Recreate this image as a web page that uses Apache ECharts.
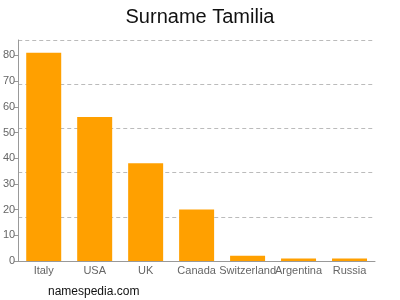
<!DOCTYPE html>
<html><head><meta charset="utf-8">
<script src="https://cdn.jsdelivr.net/npm/echarts@6/dist/echarts.min.js"></script>
<style>html,body{margin:0;padding:0;background:#fff}#c{width:400px;height:300px}</style>
</head><body><div id="c"></div>
<script>
var categories = ["Italy","USA","UK","Canada","Switzerland","Argentina","Russia"];
var values = [81, 56, 38, 20, 2, 1, 1];
var yMax = 86;
var chart = echarts.init(document.getElementById('c'), null, {renderer:'canvas'});
chart.setOption({
  animation:false,
  backgroundColor:'#fff',
  title:{text:'Surname Tamilia', left:'center', top:2, textStyle:{fontFamily:'Liberation Sans', fontSize:20, fontWeight:'normal', color:'#111'}},
  graphic:[{type:'text', left:48, top:286, style:{text:'namespedia.com', font:'12px "Liberation Sans"', fill:'#111'}}],
  grid:{left:18, right:25, top:40, bottom:39},
  xAxis:{type:'category', data:categories,
    axisLine:{lineStyle:{color:'#999'}},
    axisTick:{alignWithLabel:true, length:4, lineStyle:{color:'#999'}},
    axisLabel:{color:'#666', fontFamily:'Liberation Sans', fontSize:11, margin:4, interval:0}},
  yAxis:[{type:'value', min:0, max:yMax, interval:10,
    axisLine:{show:true, lineStyle:{color:'#999'}},
    axisTick:{show:true, length:4, lineStyle:{color:'#999'}},
    axisLabel:{color:'#666', fontFamily:'Liberation Sans', fontSize:11, margin:3, showMaxLabel:false},
    splitLine:{show:false}},
   {type:'value', min:0, max:yMax, interval:yMax/5, position:'left',
    axisLine:{show:false}, axisTick:{show:false}, axisLabel:{show:false},
    splitLine:{show:true, lineStyle:{color:'#bbb', type:[4,3]}}}],
  series:[{type:'bar', data:values, barWidth:35, itemStyle:{color:'#ffa000'}, yAxisIndex:0}]
});
</script></body></html>
